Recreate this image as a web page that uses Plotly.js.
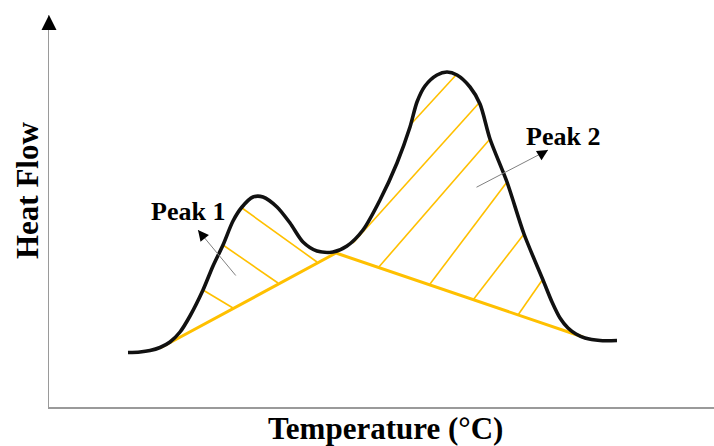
<!DOCTYPE html>
<html>
<head>
<meta charset="utf-8">
<script src="https://cdn.plot.ly/plotly-3.0.1.min.js"></script>
<style>html,body{margin:0;padding:0;background:#fff;}#chart{width:714px;height:446px;}</style>
</head>
<body>
<div id="chart"></div>
<script>
// DSC heat-flow curve (arbitrary units)
var temperature = [79, 91, 101, 111, 121, 131, 141, 154, 164, 174, 184, 193, 204, 214, 228, 241, 254, 268, 284, 298, 314, 331, 348, 361, 368, 376, 388, 398, 408, 421, 431, 441, 458, 475, 494, 503, 511, 519, 527, 536, 551, 568];
var heatFlow    = [54.5, 55, 56.5, 59.5, 65, 75, 91, 117, 141, 162, 186, 200, 210, 210, 200, 184, 165, 156, 155, 161, 177, 207, 244, 280, 305, 321, 332, 335, 332, 320, 303, 268, 225, 173, 127, 105, 89, 79, 73, 69, 66.5, 66.5];

// Baseline (integration limits)
var baselineT = [111, 287, 534];
var baselineH = [59, 154, 70];

// Hatch lines: start and end points
var hatchT0 = [193, 174, 154, 363, 304, 329, 381, 424, 469];
var hatchH0 = [199, 162, 117, 284, 164, 139, 123, 107, 92];
var hatchT1 = [268, 229, 184, 407, 430, 441, 458, 475, 494];
var hatchH1 = [145, 124, 99, 332, 304, 268, 225, 173, 128];

var peakLabels = ["Peak 1", "Peak 2"];
var xTitle = "Temperature (°C)";
var yTitle = "Heat Flow";

var hx = [], hy = [];
for (var i = 0; i < hatchT0.length; i++) {
  hx.push(hatchT0[i], hatchT1[i], null);
  hy.push(hatchH0[i], hatchH1[i], null);
}

var gold = '#FFC000';
var traces = [
  {x: hx, y: hy, mode: 'lines', line: {color: gold, width: 1.6}, hoverinfo: 'skip', showlegend: false},
  {x: baselineT, y: baselineH, mode: 'lines', line: {color: gold, width: 3}, hoverinfo: 'skip', showlegend: false},
  {x: temperature, y: heatFlow, mode: 'lines', line: {color: '#111', width: 3.6, shape: 'spline', smoothing: 0.8}, hoverinfo: 'skip', showlegend: false}
];

var serif = 'Liberation Serif, Times New Roman, serif';
var layout = {
  width: 714, height: 446,
  margin: {l: 49, r: 0, t: 15, b: 39, pad: 0},
  paper_bgcolor: '#fff', plot_bgcolor: '#fff',
  showlegend: false,
  xaxis: {range: [0, 665], showgrid: false, zeroline: false, showticklabels: false, ticks: '',
          showline: true, linecolor: '#9a9a9a', linewidth: 1.5, fixedrange: true},
  yaxis: {range: [0, 392], showgrid: false, zeroline: false, showticklabels: false, ticks: '',
          showline: true, linecolor: '#9a9a9a', linewidth: 1.5, fixedrange: true},
  annotations: [
    // axis arrowheads
    {xref: 'paper', yref: 'paper', x: 0, y: 1, ax: 0, ay: 7, axref: 'pixel', ayref: 'pixel', text: '',
     showarrow: true, arrowhead: 2, arrowsize: 2, arrowwidth: 1.5, arrowcolor: '#000'},
    {xref: 'paper', yref: 'paper', x: 1.007, y: 0, ax: -7, ay: 0, text: '',
     showarrow: true, arrowhead: 2, arrowsize: 2, arrowwidth: 1.5, arrowcolor: '#000'},
    // axis titles
    {xref: 'paper', yref: 'paper', x: 0.506, y: 0, yshift: -21, xanchor: 'center', yanchor: 'middle',
     text: '<b>' + xTitle + '</b>', showarrow: false, font: {family: serif, size: 31, color: '#000'}},
    {xref: 'paper', yref: 'paper', x: 0, xshift: -22, y: 0.551, xanchor: 'center', yanchor: 'middle', textangle: -90,
     text: '<b>' + yTitle + '</b>', showarrow: false, font: {family: serif, size: 31, color: '#000'}},
    // peak labels
    {x: 139, y: 196, text: '<b>' + peakLabels[0] + '</b>', showarrow: false, xanchor: 'center', yanchor: 'middle',
     font: {family: serif, size: 26, color: '#000'}},
    {x: 514, y: 271, text: '<b>' + peakLabels[1] + '</b>', showarrow: false, xanchor: 'center', yanchor: 'middle',
     font: {family: serif, size: 26, color: '#000'}},
    // peak pointer lines
    {x: 149, y: 177, ax: 188, ay: 130, axref: 'x', ayref: 'y', text: '', showarrow: true,
     arrowhead: 0, arrowwidth: 1, arrowcolor: '#808080'},
    {x: 499, y: 257, ax: 426, ay: 219, axref: 'x', ayref: 'y', text: '', showarrow: true,
     arrowhead: 0, arrowwidth: 1, arrowcolor: '#808080'},
    // peak pointer heads
    {x: 149, y: 177, ax: 4, ay: 5, text: '', showarrow: true, arrowhead: 2, arrowsize: 1.8, arrowwidth: 1.2, arrowcolor: '#000'},
    {x: 499, y: 257, ax: -5, ay: 3, text: '', showarrow: true, arrowhead: 2, arrowsize: 1.8, arrowwidth: 1.2, arrowcolor: '#000'}
  ]
};

Plotly.newPlot('chart', traces, layout, {staticPlot: true, displayModeBar: false});
</script>
</body>
</html>
